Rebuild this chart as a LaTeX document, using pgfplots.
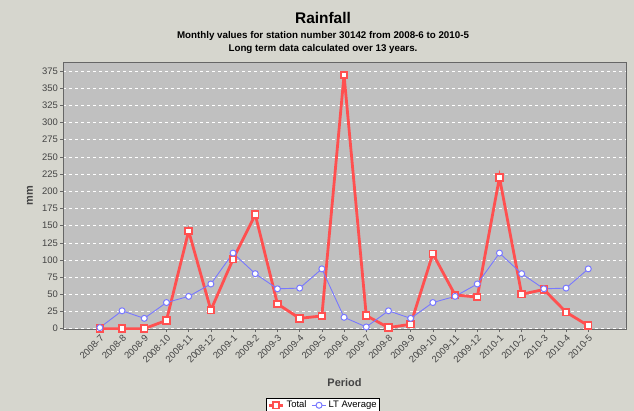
\documentclass[border=0pt]{standalone}
\usepackage{fontspec}
\setmainfont{Liberation Sans}
\usepackage{pgfplots}
\pgfplotsset{compat=1.18}
\definecolor{figbg}{RGB}{214,214,206}
\definecolor{plotbg}{RGB}{192,192,192}
\definecolor{totred}{RGB}{255,80,80}
\definecolor{ltblue}{RGB}{120,120,255}
\definecolor{ticktxt}{RGB}{68,68,68}

\pgfplotstableread{
idx total lt
0 0 1.5
1 0 26
2 0 15
3 12 38
4 142 47
5 27 65
6 101 110
7 166 80
8 36 58
9 15 59
10 18.5 87
11 369 16.5
12 19 2.5
13 1.5 26
14 6.4 15
15 109 38
16 49 47
17 46 65
18 220 110
19 50 80
20 57 58
21 24 59
22 4.4 87
}\rain

\begin{document}
\begin{tikzpicture}
\fill[figbg] (0,0) rectangle (634bp,-411bp);
\path[use as bounding box] (0,0) rectangle (634bp,-411bp);
\node[font=\fontsize{15.5}{18}\selectfont\bfseries] at (323bp,-18bp) {Rainfall};
\node[font=\fontsize{9.8}{11}\selectfont\bfseries] at (323bp,-36bp) {Monthly values for station number 30142 from 2008-6 to 2010-5};
\node[font=\fontsize{9.8}{11}\selectfont\bfseries] at (323bp,-49bp) {Long term data calculated over 13 years.};
\begin{axis}[
  at={(63bp,-329bp)}, anchor=south west,
  scale only axis, width=563bp, height=267bp,
  xmin=-1.66, xmax=23.7, ymin=-0.5, ymax=388,
  axis background/.style={fill=plotbg},
  axis line style={draw=gray!80!black},
  xtick=data,
  xticklabels={2008-7,2008-8,2008-9,2008-10,2008-11,2008-12,2009-1,2009-2,2009-3,2009-4,2009-5,2009-6,2009-7,2009-8,2009-9,2009-10,2009-11,2009-12,2010-1,2010-2,2010-3,2010-4,2010-5},
  ytick={0,25,...,375},
  tick align=outside, tick pos=lower,
  major tick length=3bp,
  tick style={draw=gray!80!black, thin},
  ymajorgrids,
  major grid style={white, dashed, thin},
  /pgf/number format/assume math mode=true,
  tick label style={font=\fontsize{9.5}{11}\selectfont, text=ticktxt},
  xticklabel style={rotate=45, anchor=north east, inner sep=1.5bp},
  yticklabel style={inner sep=2bp},
  xlabel={Period}, ylabel={mm},
  label style={font=\fontsize{11}{13}\selectfont\bfseries, text=ticktxt},
  xlabel style={at={(axis description cs:0.5,-0.2)}, anchor=center},
  ylabel style={at={(axis description cs:-0.0586,0.5)}, anchor=center},
  legend style={at={(0.462,-0.258)}, anchor=north, legend columns=2,
    draw=black, fill=white, font=\fontsize{9.5}{11}\selectfont,
    inner sep=1bp, /tikz/every even column/.append style={column sep=3bp}},
  legend image code/.code={\draw[mark repeat=2, mark phase=2] plot coordinates {(0cm,0cm) (0.25cm,0cm) (0.5cm,0cm)};},
  legend cell align=left,
]
\addplot[totred, line width=2.8bp, mark=square*, mark size=3.3bp,
  mark options={fill=white, draw=totred, line width=1.8bp}] table[x=idx, y=total] {\rain};
\addlegendentry{Total}
\addplot[ltblue, line width=0.9bp, mark=*, mark size=3bp,
  mark options={fill=white, draw=ltblue, line width=1bp}] table[x=idx, y=lt] {\rain};
\addlegendentry{LT Average}
\end{axis}
\end{tikzpicture}
\end{document}
